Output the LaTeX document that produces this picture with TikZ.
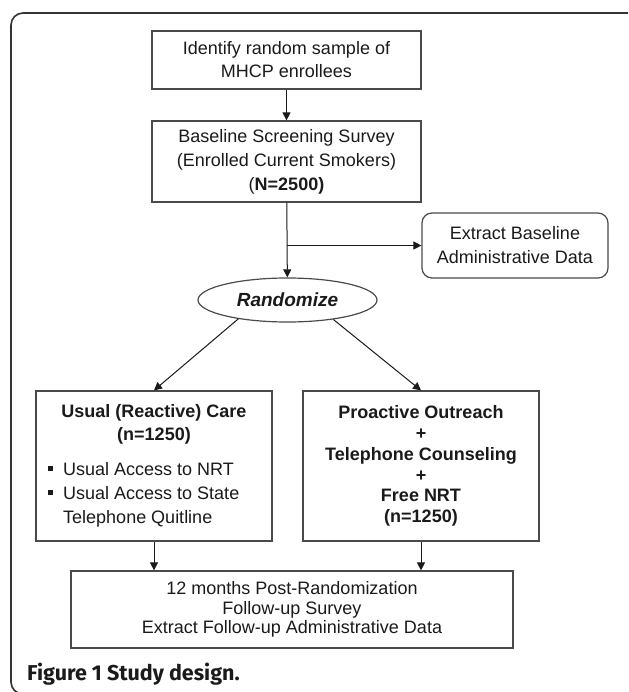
\documentclass[tikz,border=0pt]{standalone}
\usepackage{fontspec}
\setmainfont{Liberation Sans}
\newfontfamily\capfont{Fira Sans}
\usetikzlibrary{shapes.geometric,arrows.meta}
\definecolor{ink}{HTML}{1A1A1A}
\definecolor{edgecol}{HTML}{4A4A4A}
\definecolor{framecol}{HTML}{333333}
\begin{document}
\begin{tikzpicture}[x=1pt,y=-1pt,
  box/.style={draw=edgecol, line width=1.2pt, inner sep=0pt, align=center, text=ink},
  txt/.style={inner sep=0pt, text=ink},
  arr/.style={draw=ink, line width=1pt, -{Triangle[length=8pt,width=8pt]}},
]
\useasboundingbox (0,0) rectangle (628,692);
\begin{scope}
\clip (0,0) rectangle (628,692);
\draw[line width=1.6pt, draw=framecol, rounded corners=12pt] (11,13) rectangle (720,694);
\end{scope}

\node[box, minimum width=269pt, minimum height=58pt, font=\fontsize{18}{23}\selectfont] (identify) at (286.5,60) {Identify random sample of\\MHCP enrollees};
\node[box, minimum width=269pt, minimum height=81pt, font=\fontsize{18}{24}\selectfont] (baseline) at (286.5,161.5) {Baseline Screening Survey\\(Enrolled Current Smokers)\\(\textbf{N=2500)}};
\node[box, rounded corners=10pt, minimum width=186pt, minimum height=65pt, font=\fontsize{18}{24}\selectfont] (extract) at (515,245.5) {Extract Baseline\\Administrative Data};
\node[box, ellipse, minimum width=179pt, minimum height=44pt, font=\fontsize{19}{23}\selectfont\bfseries\itshape] (rand) at (287.5,300) {Randomize};

\node[box, minimum width=236pt, minimum height=150pt] (lbox) at (154,466) {};
\node[txt, align=center, font=\fontsize{18}{23}\selectfont\bfseries] (lhead) at (154,424) {Usual (Reactive) Care\\(n=1250)};
\node[txt, align=left, anchor=north west, font=\fontsize{18}{24}\selectfont] (lbul) at (48,462)
  {\makebox[15pt][l]{\rule[4pt]{5pt}{5pt}}Usual Access to NRT\\
   \makebox[15pt][l]{\rule[4pt]{5pt}{5pt}}Usual Access to State\\
   \hspace*{15pt}Telephone Quitline};

\node[box, minimum width=236pt, minimum height=150pt, font=\fontsize{18}{20.8}\selectfont\bfseries] (rbox) at (421,466) {Proactive Outreach\\+\\Telephone Counseling\\+\\Free NRT\\(n=1250)};

\node[box, minimum width=442pt, minimum height=77pt, font=\fontsize{18}{19.5}\selectfont] (bot) at (292,609.5) {12 months Post-Randomization\\Follow-up Survey\\Extract Follow-up Administrative Data};

\node[txt, anchor=base west, font=\capfont\bfseries\fontsize{21.5}{25}\selectfont] (caption) at (27,680) {Figure 1 Study design.};

\draw[arr] (identify) -- (baseline);
\draw[arr] (baseline) -- (rand);
\draw[arr] (baseline.south |- extract.west) -- (extract.west);
\draw[arr] (rand.201.8) -- (lbox.north);
\draw[arr] (rand.337.3) -- (rbox.north);
\draw[arr] (lbox.south) -- (lbox.south |- bot.north);
\draw[arr] (rbox.south) -- (rbox.south |- bot.north);
\end{tikzpicture}
\end{document}
